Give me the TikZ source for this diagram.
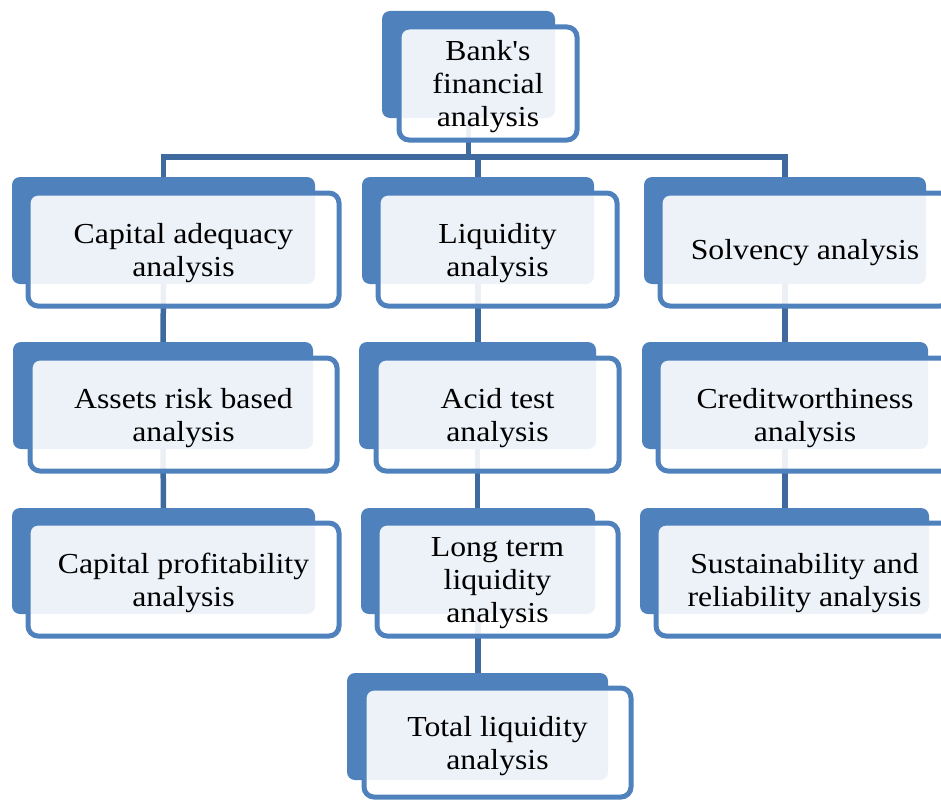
\documentclass[tikz,border=0pt]{standalone}
\usepackage{fontspec}
\setmainfont{Liberation Serif}[FakeStretch=1.095, Ligatures=TeXOff]
\pgfdeclarelayer{bg}
\pgfsetlayers{bg,main}
\definecolor{acc}{RGB}{79,129,189}
\definecolor{conncol}{RGB}{62,106,160}
\begin{document}
\begin{tikzpicture}[x=1pt,y=-1pt,
  backbox/.style={fill=acc, rounded corners=8pt, inner sep=0pt, outer sep=0pt, minimum height=107pt},
  frontbox/.style={draw=acc, line width=5pt, fill=white, fill opacity=0.9, text opacity=1,
    rounded corners=10pt, inner sep=0pt, outer sep=0pt, align=center, minimum height=113pt,
    text depth=0pt, font=\fontsize{29}{33}\selectfont},
  connline/.style={draw=conncol, line width=5.5pt}]
\path[use as bounding box] (0,0) rectangle (941,800);
\clip (0,0) rectangle (941,800);

% top
\node[backbox, minimum width=173pt] (tb) at (468.5,64.5) {};
\node[frontbox, minimum width=178pt] (tf) at (488,83.5) {Bank's\\financial\\analysis};

% row 1
\node[backbox, minimum width=303pt] (l1b) at (163.5,230.5) {};
\node[frontbox, minimum width=311pt] (l1f) at (183.5,249.5) {Capital adequacy\\analysis};
\node[backbox, minimum width=232pt] (m1b) at (478,230.5) {};
\node[frontbox, minimum width=239pt] (m1f) at (497.5,249.5) {Liquidity\\analysis};
\node[backbox, minimum width=282pt] (r1b) at (785,230.5) {};
\node[frontbox, minimum width=290pt] (r1f) at (805,249.5) {Solvency analysis};

% row 2
\node[backbox, minimum width=300pt] (l2b) at (163,395.5) {};
\node[frontbox, minimum width=307pt] (l2f) at (183.5,414.5) {Assets risk based\\analysis};
\node[backbox, minimum width=237pt] (m2b) at (477.5,395.5) {};
\node[frontbox, minimum width=243pt] (m2f) at (497.5,414.5) {Acid test\\analysis};
\node[backbox, minimum width=286pt] (r2b) at (785,395.5) {};
\node[frontbox, minimum width=294pt] (r2f) at (805,414.5) {Creditworthiness\\analysis};

% row 3
\node[backbox, minimum width=303pt, minimum height=106pt] (l3b) at (163.5,561) {};
\node[frontbox, minimum width=311pt] (l3f) at (183.5,579.5) {Capital profitability\\analysis};
\node[backbox, minimum width=234pt, minimum height=106pt] (m3b) at (478,561) {};
\node[frontbox, minimum width=241pt] (m3f) at (497.5,579.5) {Long term\\liquidity\\analysis};
\node[backbox, minimum width=289pt, minimum height=106pt] (r3b) at (784.5,561) {};
\node[frontbox, minimum width=297pt] (r3f) at (804.5,579.5) {Sustainability and\\reliability analysis};

% row 4
\node[backbox, minimum width=261pt] (m4b) at (477.5,726.5) {};
\node[frontbox, minimum width=267pt, minimum height=109pt] (m4f) at (497.5,742.5) {Total liquidity\\analysis};

\begin{pgfonlayer}{bg}
\coordinate (j) at (468.5,157);
\draw[connline] (tb.south) -- (j);
\draw[connline] (l1b.north) |- (j) -| (r1b.north);
\draw[connline] (j) -| (m1b.north);
\draw[connline] (l1b.south) -- (l2b.north);
\draw[connline] (l2b.south) -- (l3b.north);
\draw[connline] (m1b.south) -- (m1b.south |- m2b.north);
\draw[connline] (m2b.south) -- (m2b.south |- m3b.north);
\draw[connline] (m3b.south) -- (m3b.south |- m4b.north);
\draw[connline] (r1b.south) -- (r1b.south |- r2b.north);
\draw[connline] (r2b.south) -- (r2b.south |- r3b.north);
\end{pgfonlayer}
\end{tikzpicture}
\end{document}
